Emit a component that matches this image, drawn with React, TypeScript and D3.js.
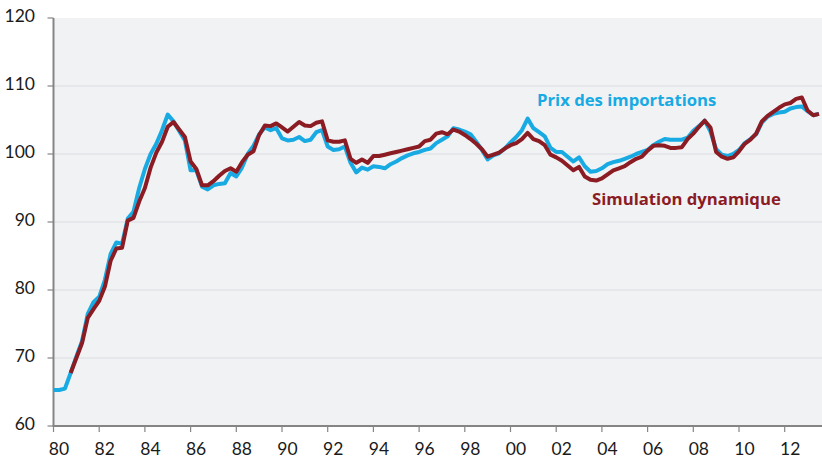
import React from 'react';
import * as d3 from 'd3';

// quarterly series, first point = first quarter of the start year
const prixStart = 1980;
const prixImportations = [
  65.3, 65.3, 65.5, 67.8,
  70.2, 72.5, 76.5, 78.2,
  79.0, 81.5, 85.3, 87.0,
  86.8, 90.5, 91.5, 95.0,
  97.8, 100.0, 101.5, 103.5,
  105.8, 104.8, 103.4, 102.0,
  97.6, 97.6, 95.2, 94.8,
  95.4, 95.6, 95.7, 97.2,
  96.7, 98.0, 100.0, 101.2,
  102.9, 103.9, 103.5, 103.8,
  102.3, 102.0, 102.1, 102.5,
  101.9, 102.1, 103.2, 103.5,
  101.1, 100.6, 100.7, 101.1,
  98.7, 97.3, 98.0, 97.7,
  98.2, 98.1, 97.9, 98.5,
  98.9, 99.4, 99.8, 100.1,
  100.3, 100.6, 100.8, 101.6,
  102.1, 102.6, 103.8, 103.6,
  103.3, 102.9, 101.8, 100.6,
  99.2, 99.8, 100.1, 100.8,
  101.7, 102.5, 103.5, 105.2,
  103.8, 103.2, 102.6, 100.9,
  100.3, 100.3, 99.6, 98.9,
  99.5, 98.2, 97.4, 97.5,
  97.9, 98.5, 98.8, 99.0,
  99.3, 99.6, 100.0, 100.3,
  100.6, 101.3, 101.8, 102.2,
  102.1, 102.1, 102.1, 102.4,
  103.4, 104.1, 104.9, 103.3,
  100.7, 99.9, 99.7, 100.0,
  100.6, 101.6, 102.2, 102.9,
  104.6, 105.5, 105.9, 106.1,
  106.2, 106.7, 106.9, 107.0,
  106.3, 105.7, 105.9,
];

const simStart = 1980.75;
const simulationDynamique = [
  67.8,
  70.0, 72.2, 75.9, 77.2,
  78.4, 80.5, 84.3, 86.1,
  86.2, 90.2, 90.6, 93.0,
  95.0, 98.0, 100.2, 101.8,
  104.0, 104.7, 103.6, 102.5,
  98.9, 97.8, 95.4, 95.4,
  96.0, 96.8, 97.5, 97.9,
  97.4, 98.8, 99.9, 100.4,
  102.8, 104.2, 104.1, 104.5,
  103.9, 103.3, 104.0, 104.7,
  104.2, 104.1, 104.6, 104.8,
  102.0, 101.8, 101.8, 102.0,
  99.3, 98.7, 99.2, 98.7,
  99.7, 99.7, 99.9, 100.1,
  100.3, 100.5, 100.7, 100.9,
  101.1, 101.9, 102.1, 103.0,
  103.2, 102.9, 103.6, 103.3,
  102.8, 102.2, 101.5, 100.7,
  99.6, 99.9, 100.2, 100.8,
  101.3, 101.6, 102.2, 103.1,
  102.2, 101.9, 101.3, 99.9,
  99.5, 99.0, 98.3, 97.6,
  98.1, 96.7, 96.2, 96.1,
  96.4, 97.0, 97.6, 97.9,
  98.2, 98.8, 99.3, 99.6,
  100.5, 101.2, 101.3, 101.2,
  100.9, 100.9, 101.0, 102.2,
  103.0, 104.0, 104.9, 103.9,
  100.3, 99.6, 99.3, 99.5,
  100.4, 101.5, 102.1, 103.0,
  104.8, 105.6, 106.2, 106.8,
  107.3, 107.5, 108.1, 108.3,
  106.4, 105.7, 105.9,
];

const yTicks = [60, 70, 80, 90, 100, 110, 120];
const xTicks = d3.range(1980, 2013, 2);
const xTickLabels = xTicks.map((y) => String(y % 100).padStart(2, '0'));

const width = 822;
const height = 460;
const plot = { left: 53.5, right: 822, top: 18, bottom: 426 };

const font = 'Lato, "Open Sans", sans-serif';
const legendFont = '"Open Sans", Lato, sans-serif';
const blue = '#17aae3';
const red = '#8c1c24';

const toPoints = (start: number, values: number[]) =>
  values.map((v, i) => ({ t: start + i / 4, v }));

export default function App() {
  const x = d3.scaleLinear().domain([1980, 2012]).range([plot.left, 784.7]);
  const y = d3.scaleLinear().domain([60, 120]).range([plot.bottom, plot.top]);

  const line = d3
    .line<{ t: number; v: number }>()
    .x((d) => x(d.t))
    .y((d) => y(d.v));

  return (
    <svg
      width={width}
      height={height}
      style={{ position: 'absolute', left: 0, top: 0, background: '#fff' }}
    >
      <defs>
        <clipPath id="plot-clip">
          <rect x={plot.left} y={plot.top - 10} width={plot.right - plot.left} height={plot.bottom - plot.top + 10} />
        </clipPath>
      </defs>

      <rect
        x={plot.left}
        y={plot.top}
        width={plot.right - plot.left}
        height={plot.bottom - plot.top}
        fill="#f1f2f4"
      />

      {/* gridlines */}
      {yTicks.slice(1, -1).map((t) => (
        <line key={t} x1={plot.left} x2={plot.right} y1={y(t)} y2={y(t)} stroke="#d9dbdf" strokeWidth={1.2} />
      ))}

      {/* y axis */}
      <line x1={plot.left} x2={plot.left} y1={plot.top} y2={plot.bottom} stroke="#858585" strokeWidth={2} />
      {yTicks.map((t) => (
        <g key={t}>
          <line x1={plot.left - 6} x2={plot.left} y1={y(t)} y2={y(t)} stroke="#858585" strokeWidth={1.2} />
          <text x={35} y={y(t) + 4} textAnchor="end" fontFamily={font} fontSize={17.5} fill="#1a1a1a">
            {t}
          </text>
        </g>
      ))}

      {/* x axis */}
      <line x1={plot.left - 1} x2={plot.right} y1={plot.bottom} y2={plot.bottom} stroke="#858585" strokeWidth={2} />
      {xTicks.map((t, i) => (
        <g key={t}>
          <line x1={x(t)} x2={x(t)} y1={plot.bottom} y2={plot.bottom + 6} stroke="#858585" strokeWidth={1.2} />
          <text x={x(t) + 5.5} y={455} textAnchor="middle" fontFamily={font} fontSize={17.5} fill="#1a1a1a">
            {xTickLabels[i]}
          </text>
        </g>
      ))}

      <g clipPath="url(#plot-clip)" fill="none" strokeWidth={4} strokeLinejoin="round">
        <path d={line(toPoints(prixStart, prixImportations)) ?? ''} stroke={blue} />
        <path d={line(toPoints(simStart, simulationDynamique)) ?? ''} stroke={red} />
      </g>

      <text x={537} y={106} fontFamily={legendFont} fontSize={16.7} fontWeight="bold" fill={blue}>
        Prix des importations
      </text>
      <text x={592} y={205} fontFamily={legendFont} fontSize={16.7} fontWeight="bold" fill={red}>
        Simulation dynamique
      </text>
    </svg>
  );
}
